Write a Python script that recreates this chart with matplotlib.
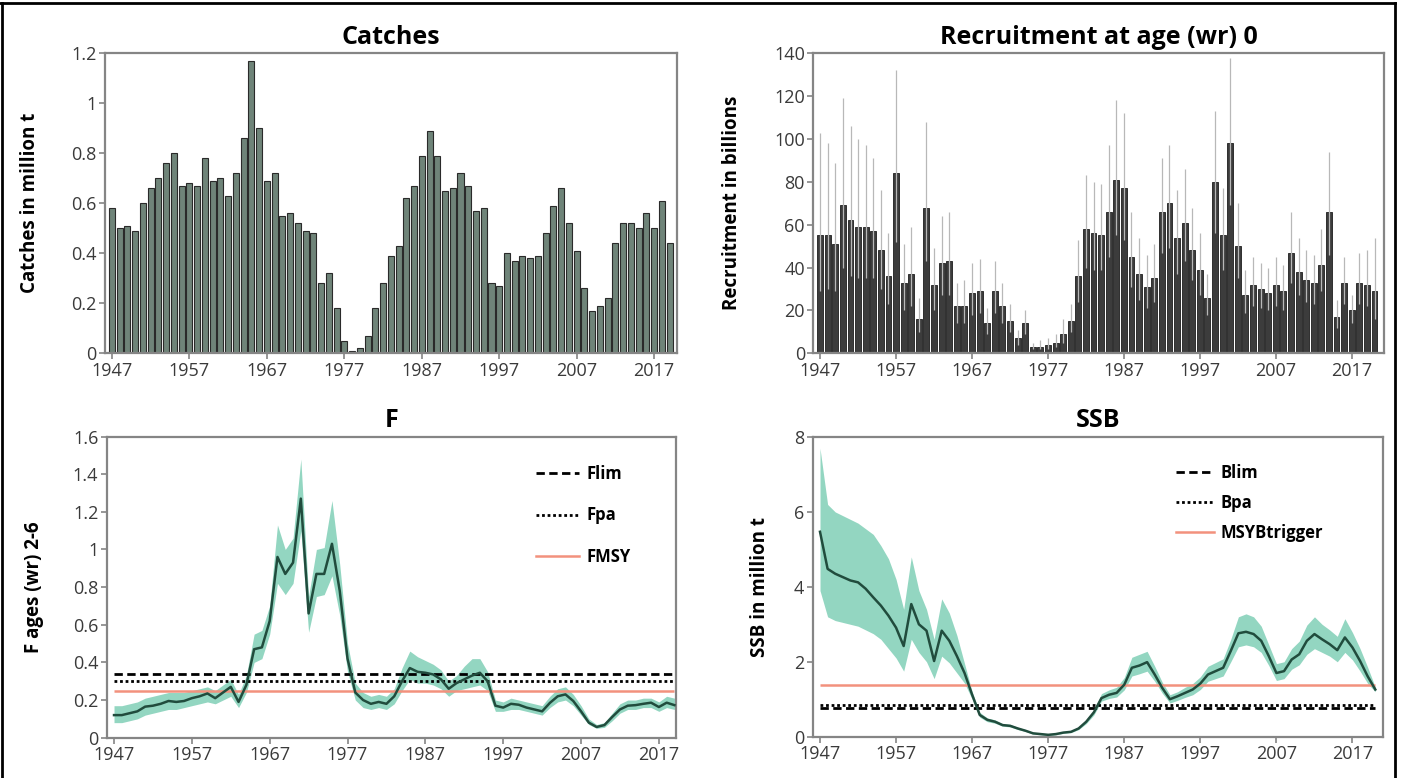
import matplotlib
matplotlib.use("Agg")
import matplotlib.pyplot as plt
from matplotlib.lines import Line2D
import numpy as np

plt.rcParams['font.family'] = ['Open Sans', 'DejaVu Sans']

# ---------------- data ----------------
catch_years = list(range(1947, 2020))
catches = [0.58, 0.50, 0.51, 0.49, 0.60, 0.66, 0.70, 0.76, 0.80, 0.67,
           0.68, 0.67, 0.78, 0.69, 0.70, 0.63, 0.72, 0.86, 1.17, 0.90,
           0.69, 0.72, 0.55, 0.56, 0.52, 0.49, 0.48, 0.28, 0.32, 0.18,
           0.05, 0.01, 0.02, 0.07, 0.18, 0.28, 0.39, 0.43, 0.62, 0.67,
           0.79, 0.89, 0.79, 0.65, 0.66, 0.72, 0.67, 0.57, 0.58, 0.28,
           0.27, 0.40, 0.37, 0.39, 0.38, 0.39, 0.48, 0.59, 0.66, 0.52,
           0.41, 0.26, 0.17, 0.19, 0.22, 0.44, 0.52, 0.52, 0.50, 0.56,
           0.50, 0.61, 0.44]

rec_years = list(range(1947, 2021))
recruitment = [55, 55, 51, 69, 62, 59, 59, 57, 48, 36,
               84, 33, 37, 16, 68, 32, 42, 43, 22, 22,
               28, 29, 14, 29, 22, 15, 7, 14, 3, 3,
               4, 5, 9, 15, 36, 58, 56, 55, 66, 81,
               77, 45, 37, 31, 35, 66, 70, 54, 61, 48,
               39, 26, 80, 55, 98, 50, 27, 32, 30, 28,
               32, 29, 47, 38, 34, 33, 41, 66, 17, 33,
               20, 33, 32, 29]
rec_low = [29, 30, 29, 40, 36, 35, 35, 35, 30, 23,
           52, 20, 22, 10, 43, 20, 27, 27, 14, 14,
           18, 19, 9, 19, 14, 10, 4, 9, 2, 2,
           2, 3, 5, 10, 24, 40, 39, 39, 45, 55,
           53, 31, 25, 21, 24, 47, 49, 37, 43, 34,
           27, 18, 56, 39, 69, 35, 19, 22, 21, 20,
           22, 20, 33, 27, 24, 23, 29, 46, 12, 23,
           14, 23, 22, 16]
rec_high = [103, 98, 89, 119, 106, 100, 97, 91, 76, 56,
            132, 51, 59, 26, 108, 49, 64, 66, 33, 34,
            42, 44, 21, 43, 33, 23, 11, 20, 5, 6,
            7, 9, 16, 23, 53, 83, 80, 79, 97, 118,
            112, 66, 54, 46, 51, 91, 97, 76, 86, 68,
            56, 37, 113, 77, 138, 70, 39, 45, 42, 40,
            45, 41, 66, 54, 48, 46, 58, 94, 25, 45,
            27, 47, 48, 54]

f_years = list(range(1947, 2020))
f_est = [0.12, 0.12, 0.13, 0.14, 0.165, 0.17, 0.18, 0.195, 0.19, 0.195,
         0.21, 0.22, 0.235, 0.21, 0.24, 0.27, 0.19, 0.28, 0.47, 0.48,
         0.62, 0.96, 0.87, 0.93, 1.27, 0.66, 0.87, 0.87, 1.03, 0.78,
         0.42, 0.24, 0.20, 0.18, 0.19, 0.18, 0.22, 0.30, 0.37, 0.35,
         0.345, 0.336, 0.31, 0.26, 0.29, 0.31, 0.33, 0.345, 0.30, 0.17,
         0.16, 0.18, 0.175, 0.16, 0.15, 0.14, 0.185, 0.22, 0.23, 0.195,
         0.14, 0.08, 0.057, 0.067, 0.11, 0.15, 0.17, 0.173, 0.18, 0.186,
         0.163, 0.186, 0.173]
f_low = [0.08, 0.08, 0.09, 0.10, 0.12, 0.13, 0.14, 0.15, 0.15, 0.16,
         0.17, 0.18, 0.19, 0.18, 0.20, 0.22, 0.16, 0.24, 0.40, 0.42,
         0.55, 0.82, 0.76, 0.82, 1.10, 0.56, 0.75, 0.76, 0.86, 0.65,
         0.35, 0.20, 0.16, 0.15, 0.16, 0.15, 0.18, 0.25, 0.31, 0.29,
         0.29, 0.28, 0.26, 0.22, 0.25, 0.26, 0.27, 0.28, 0.25, 0.14,
         0.14, 0.15, 0.15, 0.14, 0.13, 0.12, 0.16, 0.19, 0.20, 0.17,
         0.12, 0.07, 0.05, 0.055, 0.09, 0.13, 0.15, 0.15, 0.16, 0.16,
         0.14, 0.16, 0.15]
f_high = [0.17, 0.17, 0.18, 0.19, 0.21, 0.22, 0.23, 0.24, 0.24, 0.24,
          0.25, 0.26, 0.27, 0.25, 0.28, 0.31, 0.23, 0.33, 0.55, 0.57,
          0.70, 1.13, 1.00, 1.06, 1.48, 0.75, 1.00, 1.01, 1.26, 0.92,
          0.50, 0.29, 0.24, 0.22, 0.23, 0.22, 0.26, 0.37, 0.46, 0.43,
          0.41, 0.39, 0.36, 0.30, 0.33, 0.38, 0.42, 0.42, 0.35, 0.20,
          0.19, 0.21, 0.20, 0.19, 0.18, 0.17, 0.22, 0.26, 0.27, 0.23,
          0.17, 0.10, 0.07, 0.08, 0.13, 0.18, 0.20, 0.20, 0.21, 0.21,
          0.19, 0.22, 0.21]
Flim, Fpa, FMSY = 0.34, 0.30, 0.25

ssb_years = list(range(1947, 2021))
ssb = [5.47, 4.48, 4.35, 4.26, 4.17, 4.12, 3.95, 3.72, 3.50, 3.23,
       2.91, 2.42, 3.54, 3.00, 2.83, 2.02, 2.83, 2.56, 2.15, 1.70,
       1.12, 0.58, 0.45, 0.40, 0.31, 0.29, 0.22, 0.16, 0.09, 0.07,
       0.05, 0.07, 0.11, 0.13, 0.22, 0.40, 0.65, 1.03, 1.12, 1.17,
       1.39, 1.84, 1.90, 1.99, 1.66, 1.30, 1.00, 1.08, 1.17, 1.26,
       1.42, 1.66, 1.75, 1.84, 2.29, 2.76, 2.80, 2.74, 2.56, 2.15,
       1.70, 1.75, 2.06, 2.20, 2.56, 2.74, 2.60, 2.47, 2.31, 2.65,
       2.38, 2.02, 1.61, 1.26]
ssb_low = [3.9, 3.2, 3.1, 3.05, 3.0, 2.95, 2.85, 2.75, 2.6, 2.35,
           2.1, 1.75, 2.6, 2.25, 2.0, 1.55, 2.15, 1.97, 1.70, 1.43,
           1.0, 0.52, 0.40, 0.36, 0.28, 0.26, 0.19, 0.14, 0.07, 0.05,
           0.03, 0.05, 0.09, 0.11, 0.19, 0.35, 0.58, 0.95, 1.02, 1.06,
           1.25, 1.62, 1.68, 1.75, 1.48, 1.16, 0.90, 0.97, 1.05, 1.12,
           1.26, 1.48, 1.55, 1.62, 2.0, 2.4, 2.45, 2.4, 2.25, 1.9,
           1.5, 1.55, 1.8, 1.92, 2.2, 2.35, 2.25, 2.15, 2.0, 2.25,
           2.05, 1.75, 1.42, 1.2]
ssb_high = [7.7, 6.2, 6.0, 5.9, 5.8, 5.7, 5.55, 5.4, 5.1, 4.75,
            4.2, 3.4, 4.8, 3.9, 3.4, 2.6, 3.68, 3.3, 2.7, 1.95,
            1.2, 0.65, 0.50, 0.45, 0.35, 0.33, 0.25, 0.19, 0.11, 0.09,
            0.07, 0.09, 0.13, 0.16, 0.26, 0.45, 0.72, 1.15, 1.25, 1.32,
            1.58, 2.12, 2.2, 2.28, 1.88, 1.45, 1.12, 1.2, 1.32, 1.42,
            1.6, 1.88, 1.98, 2.08, 2.6, 3.2, 3.28, 3.2, 2.95, 2.45,
            1.95, 2.0, 2.35, 2.55, 2.98, 3.2, 3.0, 2.85, 2.68, 3.15,
            2.78, 2.35, 1.85, 1.32]
Blim, Bpa, MSYBtrigger = 0.77, 0.85, 1.38

xtick_years = list(range(1947, 2018, 10))

# ---------------- style ----------------
W, H = 1416, 778
BAND = '#93d6c1'
LINE = '#214c3d'
RED = '#f2917d'
SPINE = '#858585'
TXT = '#3a3a3a'
DASH = (0, (3, 1.6))
DOT = (0, (1, 1))


def px_axes(fig, left, right, top, bottom):
    return fig.add_axes([left / W, (H - bottom) / H, (right - left) / W, (bottom - top) / H])


def style(ax, xlim, ylim, yticks, title, ylabel, label_x):
    ax.set_xlim(*xlim)
    ax.set_ylim(*ylim)
    ax.set_xticks(xtick_years)
    ax.set_xticklabels([str(y) for y in xtick_years])
    ax.set_yticks(yticks)
    ax.set_yticklabels(['{:g}'.format(v) for v in yticks])
    for s in ax.spines.values():
        s.set_color(SPINE)
        s.set_linewidth(1.6)
    ax.tick_params(axis='both', direction='out', length=4, width=1.2,
                   color=SPINE, labelsize=13, labelcolor=TXT, pad=2)
    ax.set_title(title, fontsize=18, fontweight='bold', pad=7)
    ax.set_ylabel(ylabel, fontsize=13.5, fontweight='bold')
    ax.yaxis.set_label_coords(label_x, 0.5)


fig = plt.figure(figsize=(W / 100, H / 100), dpi=100)

# Catches
ax1 = px_axes(fig, 105, 677, 53.3, 353.3)
ax1.bar(catch_years, catches, width=0.78, color='#6f8479', edgecolor='#2a2a2a', linewidth=0.8, zorder=2)
style(ax1, (1946.1, 2019.95), (0, 1.2), [0, 0.2, 0.4, 0.6, 0.8, 1.0, 1.2],
      'Catches', 'Catches in million t', -0.114)

# Recruitment
ax2 = px_axes(fig, 813.3, 1384, 53.3, 353.3)
ax2.bar(rec_years, recruitment, width=0.78, color='#3c3c3c', edgecolor='#1e1e1e', linewidth=0.6, zorder=2)
ax2.vlines(rec_years, rec_low, rec_high, color='#b8b8b8', linewidth=0.9, zorder=3)
style(ax2, (1946.1, 2021.25), (0, 140), [0, 20, 40, 60, 80, 100, 120, 140],
      'Recruitment at age (wr) 0', 'Recruitment in billions', -0.125)

# F
ax3 = px_axes(fig, 106.7, 676, 436.5, 737.7)
ax3.fill_between(f_years, f_low, f_high, color=BAND, linewidth=0, zorder=1)
ax3.hlines(FMSY, f_years[0], f_years[-1], color=RED, linewidth=1.8, zorder=2)
ax3.hlines(Fpa, f_years[0], f_years[-1], color='black', linestyle=DOT, linewidth=2, zorder=2)
ax3.hlines(Flim, f_years[0], f_years[-1], color='black', linestyle=DASH, linewidth=2, zorder=2)
ax3.plot(f_years, f_est, color=LINE, linewidth=1.8, zorder=3)
style(ax3, (1946.06, 2019.2), (0, 1.6), [0, 0.2, 0.4, 0.6, 0.8, 1.0, 1.2, 1.4, 1.6],
      'F', 'F ages (wr) 2-6', -0.110)
h3 = [Line2D([], [], color='black', linestyle=DASH, linewidth=2),
      Line2D([], [], color='black', linestyle=DOT, linewidth=2),
      Line2D([], [], color=RED, linewidth=1.8)]
ax3.legend(h3, ['Flim', 'Fpa', 'FMSY'], loc='upper left', bbox_to_anchor=(0.728, 0.955),
           frameon=False, handlelength=2.6, labelspacing=1.4, handletextpad=0.4,
           prop={'size': 12, 'weight': 'bold'})

# SSB
ax4 = px_axes(fig, 812.7, 1383.3, 437, 736.7)
ax4.fill_between(ssb_years, ssb_low, ssb_high, color=BAND, linewidth=0, zorder=1)
ax4.hlines(MSYBtrigger, ssb_years[0], ssb_years[-1], color=RED, linewidth=1.8, zorder=2)
ax4.hlines(Bpa, ssb_years[0], ssb_years[-1], color='black', linestyle=DOT, linewidth=2, zorder=2)
ax4.hlines(Blim, ssb_years[0], ssb_years[-1], color='black', linestyle=DASH, linewidth=2, zorder=2)
ax4.plot(ssb_years, ssb, color=LINE, linewidth=1.8, zorder=3)
style(ax4, (1946.04, 2021.05), (0, 8), [0, 2, 4, 6, 8],
      'SSB', 'SSB in million t', -0.075)
h4 = [Line2D([], [], color='black', linestyle=DASH, linewidth=2),
      Line2D([], [], color='black', linestyle=DOT, linewidth=2),
      Line2D([], [], color=RED, linewidth=1.8)]
ax4.legend(h4, ['Blim', 'Bpa', 'MSYBtrigger'], loc='upper left', bbox_to_anchor=(0.61, 0.96),
           frameon=False, handlelength=2.3, labelspacing=0.72, handletextpad=0.4,
           prop={'size': 12, 'weight': 'bold'})

# outer frame lines
fig.add_artist(Line2D([1.5 / W, 1.5 / W], [0, 1 - 3 / H], color='black', linewidth=2, transform=fig.transFigure))
fig.add_artist(Line2D([0, 1395 / W], [1 - 3 / H, 1 - 3 / H], color='black', linewidth=2, transform=fig.transFigure))
fig.add_artist(Line2D([1395 / W, 1395 / W], [0, 1 - 3 / H], color='black', linewidth=2, transform=fig.transFigure))

fig.savefig('out.png', dpi=100)
